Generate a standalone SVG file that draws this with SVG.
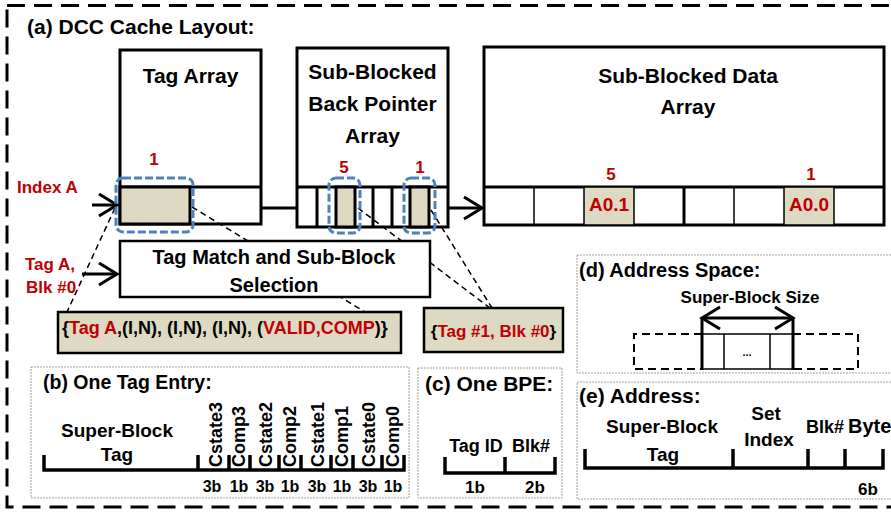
<svg xmlns="http://www.w3.org/2000/svg" width="891" height="515" viewBox="0 0 891 515">
<defs>
<style>
text{font-family:"Liberation Sans",Arial,sans-serif;font-weight:bold;fill:#000}
.red{fill:#C00000}
.c{text-anchor:middle}
.box{fill:none;stroke:#000;stroke-width:3}
.thin{stroke:#000;stroke-width:1.5;fill:none}
.tcell{fill:#DDD9C3;stroke:#000;stroke-width:3}
.dcell{fill:#DDD9C3;stroke:#000;stroke-width:1.5}
.hl{fill:none;stroke:#4F81BD;stroke-width:3;stroke-dasharray:8 3}
.dash{fill:none;stroke:#000;stroke-width:1.5;stroke-dasharray:6 4}
.panel{fill:none;stroke:#A0A0A0;stroke-width:1;stroke-dasharray:2 1}
.arr{fill:none;stroke:#000;stroke-width:3}
.br{fill:none;stroke:#000;stroke-width:3.5}
.entry{fill:#DDD9C3;stroke:#000;stroke-width:2.5}
</style>
<marker id="chev" markerUnits="userSpaceOnUse" markerWidth="24" markerHeight="26" refX="19" refY="12" orient="auto-start-reverse" viewBox="0 0 24 26">
<path d="M1,1 L19,12 L1,23" fill="none" stroke="#000" stroke-width="3"/>
</marker>
</defs>
<rect width="891" height="515" fill="#fff"/>
<rect x="7" y="5.5" width="900" height="501.5" fill="none" stroke="#000" stroke-width="3" stroke-dasharray="18 9"/>
<text x="27" y="34" font-size="21">(a) DCC Cache Layout:</text>

<g id="connectors">
<line class="arr" x1="92" y1="205" x2="117" y2="205" marker-end="url(#chev)"/>
<line class="arr" x1="82" y1="274" x2="117" y2="274" marker-end="url(#chev)"/>
<line class="arr" x1="261" y1="208" x2="297" y2="208"/>
<line class="arr" x1="448" y1="208" x2="482" y2="208" marker-end="url(#chev)"/>
<line class="dash" x1="115" y1="208" x2="67" y2="312"/>
<line class="dash" x1="192" y1="207" x2="365" y2="312"/>
<line class="dash" x1="358" y1="208" x2="490" y2="308"/>
<line class="dash" x1="431" y1="210" x2="492" y2="308"/>
</g>

<g id="index-a">
<text class="red" x="17" y="193" font-size="17">Index A</text>
</g>
<g id="tag-a">
<text class="red" x="25" y="270" font-size="17">Tag A,</text>
<text class="red" x="26" y="293" font-size="17">Blk #0</text>
</g>

<g id="tag-array">
<rect class="box" x="120" y="50" width="141" height="174"/>
<line class="box" x1="120" y1="187" x2="261" y2="187"/>
<rect class="tcell" x="120" y="187" width="70" height="37"/>
<text class="c" x="190.5" y="83" font-size="21">Tag Array</text>
<text class="red c" x="154" y="165" font-size="17">1</text>
<rect class="hl" x="116" y="178" width="77" height="54" rx="7"/>
</g>

<g id="bpa">
<rect class="box" x="297" y="48" width="151" height="179"/>
<line class="box" x1="297" y1="187" x2="448" y2="187"/>
<path class="box" d="M317,187V227M373,187V227M392,187V227"/>
<rect class="tcell" x="336" y="187" width="19" height="40"/>
<rect class="tcell" x="410" y="187" width="19" height="40"/>
<text class="c" x="372.5" y="79" font-size="21">Sub-Blocked</text>
<text class="c" x="372.5" y="111" font-size="21">Back Pointer</text>
<text class="c" x="372.5" y="143" font-size="21">Array</text>
<text class="red c" x="344" y="173" font-size="17">5</text>
<text class="red c" x="420" y="173" font-size="17">1</text>
<rect class="hl" x="329" y="178" width="31" height="55" rx="7"/>
<rect class="hl" x="404" y="178" width="31" height="55" rx="7"/>
</g>

<g id="data-array">
<rect class="box" x="484" y="47" width="400" height="178"/>
<line class="box" x1="484" y1="187" x2="884" y2="187"/>
<path class="thin" d="M534,187V225M734,187V225"/>
<rect class="dcell" x="584" y="187" width="50" height="38"/>
<rect class="dcell" x="784" y="187" width="50" height="38"/>
<line class="box" x1="684" y1="187" x2="684" y2="225"/>
<text class="c" x="688" y="83" font-size="21">Sub-Blocked Data</text>
<text class="c" x="688" y="114" font-size="21">Array</text>
<text class="red c" x="611" y="180" font-size="17">5</text>
<text class="red c" x="811" y="180" font-size="17">1</text>
<text class="red c" x="609" y="211" font-size="19">A0.1</text>
<text class="red c" x="809" y="211" font-size="19">A0.0</text>
</g>

<g id="tag-match">
<rect x="120" y="241" width="310" height="56" fill="#fff" stroke="#000" stroke-width="2.5"/>
<text class="c" x="274" y="264" font-size="20">Tag Match and Sub-Block</text>
<text class="c" x="274" y="292" font-size="20">Selection</text>
</g>

<g id="tag-entry">
<rect class="entry" x="58" y="312" width="343" height="41"/>
<text x="62" y="334" font-size="18">{<tspan class="red">Tag A</tspan>,(I,N), (I,N), (I,N), (<tspan class="red">VALID,COMP</tspan>)}</text>
</g>

<g id="bpe">
<rect class="entry" x="424" y="308" width="139" height="44"/>
<text class="c" x="493.5" y="337" font-size="17">{<tspan class="red">Tag #1, Blk #0</tspan>}</text>
</g>

<g id="panel-b">
<rect class="panel" x="31" y="367" width="378" height="131"/>
<text x="43" y="389" font-size="19.5">(b) One Tag Entry:</text>
<text class="c" x="117" y="437" font-size="19">Super-Block</text>
<text class="c" x="117" y="461" font-size="19">Tag</text>
<path class="br" d="M44,455V470H404V455M198,470V455M229,470V455M250,470V455M279,470V455M301,470V455M331,470V455M353,470V455M382,470V455"/>
<text transform="translate(222,467) rotate(-90)" font-size="18">Cstate3</text>
<text transform="translate(245,467) rotate(-90)" font-size="18">Comp3</text>
<text transform="translate(272,467) rotate(-90)" font-size="18">Cstate2</text>
<text transform="translate(296,467) rotate(-90)" font-size="18">Comp2</text>
<text transform="translate(324,467) rotate(-90)" font-size="18">Cstate1</text>
<text transform="translate(348,467) rotate(-90)" font-size="18">Comp1</text>
<text transform="translate(375,467) rotate(-90)" font-size="18">Cstate0</text>
<text transform="translate(399,467) rotate(-90)" font-size="18">Comp0</text>
<text class="c" x="212" y="492" font-size="16">3b</text>
<text class="c" x="239" y="492" font-size="16">1b</text>
<text class="c" x="265" y="492" font-size="16">3b</text>
<text class="c" x="290" y="492" font-size="16">1b</text>
<text class="c" x="317" y="492" font-size="16">3b</text>
<text class="c" x="342" y="492" font-size="16">1b</text>
<text class="c" x="368" y="492" font-size="16">3b</text>
<text class="c" x="393" y="492" font-size="16">1b</text>
</g>

<g id="panel-c">
<rect class="panel" x="418" y="368" width="144" height="130"/>
<text x="425" y="391" font-size="21">(c) One BPE:</text>
<text class="c" x="476" y="452" font-size="18">Tag ID</text>
<text class="c" x="531" y="452" font-size="18">Blk#</text>
<path class="br" d="M445,457V473H555V457M505,473V457"/>
<text class="c" x="475" y="493" font-size="17">1b</text>
<text class="c" x="535" y="493" font-size="17">2b</text>
</g>

<g id="panel-d">
<rect class="panel" x="577" y="255" width="330" height="118"/>
<text x="579" y="277" font-size="20">(d) Address Space:</text>
<text class="c" x="750" y="303" font-size="17">Super-Block Size</text>
<path d="M702,334H634V369H702M793,334H858V369H793" fill="none" stroke="#000" stroke-width="2" stroke-dasharray="8 5"/>
<rect class="thin" x="702" y="334" width="91" height="35"/>
<path class="thin" d="M724,334V369M770,334V369"/>
<text class="c" x="747" y="356" font-size="11">...</text>
<line class="arr" x1="702" y1="318" x2="793" y2="318" marker-start="url(#chev)" marker-end="url(#chev)"/>
<path class="arr" d="M702,318V370M793,318V370"/>
</g>

<g id="panel-e">
<rect class="panel" x="577" y="382" width="330" height="117"/>
<text x="579" y="403" font-size="21">(e) Address:</text>
<text class="c" x="662" y="433" font-size="19">Super-Block</text>
<text class="c" x="663" y="461" font-size="19">Tag</text>
<text class="c" x="766" y="420" font-size="19">Set</text>
<text class="c" x="769" y="446" font-size="19">Index</text>
<text class="c" x="825" y="433" font-size="18">Blk#</text>
<text x="848" y="433" font-size="20">Byte</text>
<path class="br" d="M585,449V468H883V449M733,468V449M808,468V449M845,468V449"/>
<text class="c" x="868" y="495" font-size="17">6b</text>
</g>
</svg>
